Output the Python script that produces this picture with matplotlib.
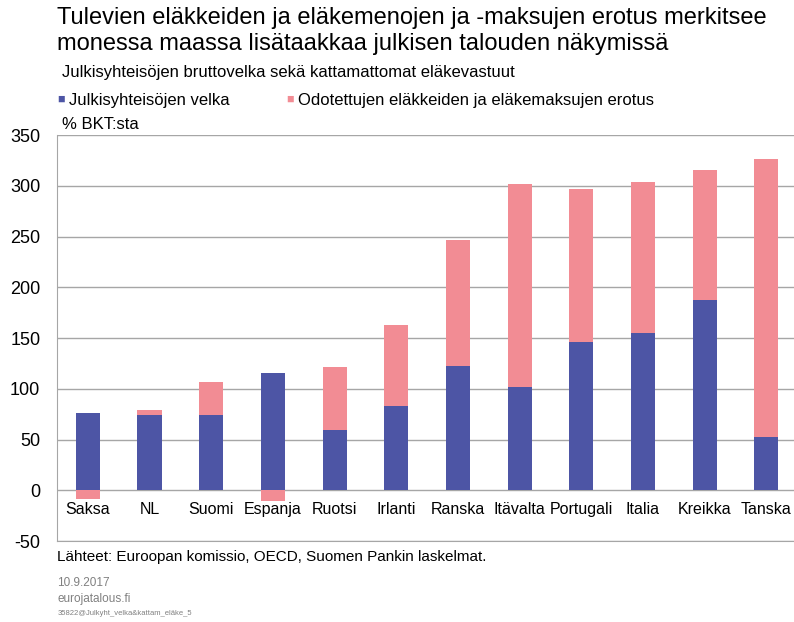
import numpy as np
import matplotlib
matplotlib.use("Agg")
import matplotlib.pyplot as plt

plt.rcParams['font.family'] = ['Liberation Sans Narrow', 'Liberation Sans', 'DejaVu Sans']

countries = ['Saksa', 'NL', 'Suomi', 'Espanja', 'Ruotsi', 'Irlanti', 'Ranska',
             'Itävalta', 'Portugali', 'Italia', 'Kreikka', 'Tanska']
velka = [76, 74, 74, 116, 59, 83, 122, 102, 146, 155, 187, 52]
erotus = [-9, 5, 33, -11, 62, 80, 125, 200, 151, 149, 129, 274]
yticks = [-50, 0, 50, 100, 150, 200, 250, 300, 350]

blue = '#4D55A5'
pink = '#F28C94'
grid_col = '#A6A6A6'

fig = plt.figure(figsize=(7.94, 6.22), dpi=100)
ax = fig.add_axes([0.0718, 0.1302, 0.9282, 0.6527])

x = np.arange(len(countries))
velka = np.array(velka)
erotus = np.array(erotus)
bottoms = np.where(erotus > 0, velka, 0)
w = 0.39
ax.bar(x, velka, width=w, color=blue, zorder=3)
ax.bar(x, erotus, width=w, bottom=bottoms, color=pink, zorder=3)

ax.set_xlim(-0.5, 11.45)
ax.set_ylim(-50, 350)
ax.set_yticks(yticks)
ax.set_yticklabels([str(t) for t in yticks], fontsize=13)
ax.set_xticks([])
ax.tick_params(axis='y', length=0, pad=12)
for t in yticks:
    ax.axhline(t, color=grid_col, lw=1, zorder=1)
for s in ['top', 'right']:
    ax.spines[s].set_visible(False)
ax.spines['left'].set_color(grid_col)
ax.spines['bottom'].set_color(grid_col)

for i, name in enumerate(countries):
    ax.text(i, -12, name, ha='center', va='top', fontsize=11.5)

fig.text(0.072, 0.988, 'Tulevien eläkkeiden ja eläkemenojen ja -maksujen erotus merkitsee\n'
         'monessa maassa lisätaakkaa julkisen talouden näkymissä',
         fontsize=17, va='top', ha='left', linespacing=1.22)
fig.text(0.078, 0.884, 'Julkisyhteisöjen bruttovelka sekä kattamattomat eläkevastuut',
         fontsize=12, va='center', ha='left')
fig.text(0.072, 0.839, '■', color=blue, fontsize=9, va='center', ha='left')
fig.text(0.087, 0.839, 'Julkisyhteisöjen velka', fontsize=12, va='center', ha='left')
fig.text(0.36, 0.839, '■', color=pink, fontsize=9, va='center', ha='left')
fig.text(0.375, 0.839, 'Odotettujen eläkkeiden ja eläkemaksujen erotus', fontsize=12,
         va='center', ha='left')
fig.text(0.078, 0.800, '% BKT:sta', fontsize=12, va='center', ha='left')

fig.text(0.072, 0.104, 'Lähteet: Euroopan komissio, OECD, Suomen Pankin laskelmat.',
         fontsize=11, va='center', ha='left')
fig.text(0.072, 0.063, '10.9.2017', fontsize=8.5, color='#808080', va='center', ha='left')
fig.text(0.072, 0.037, 'eurojatalous.fi', fontsize=8.5, color='#808080', va='center', ha='left')
fig.text(0.072, 0.014, '35822@Julkyht_velka&kattam_eläke_5', fontsize=5.5, color='#808080',
         va='center', ha='left')

fig.savefig('out.png', dpi=100)
